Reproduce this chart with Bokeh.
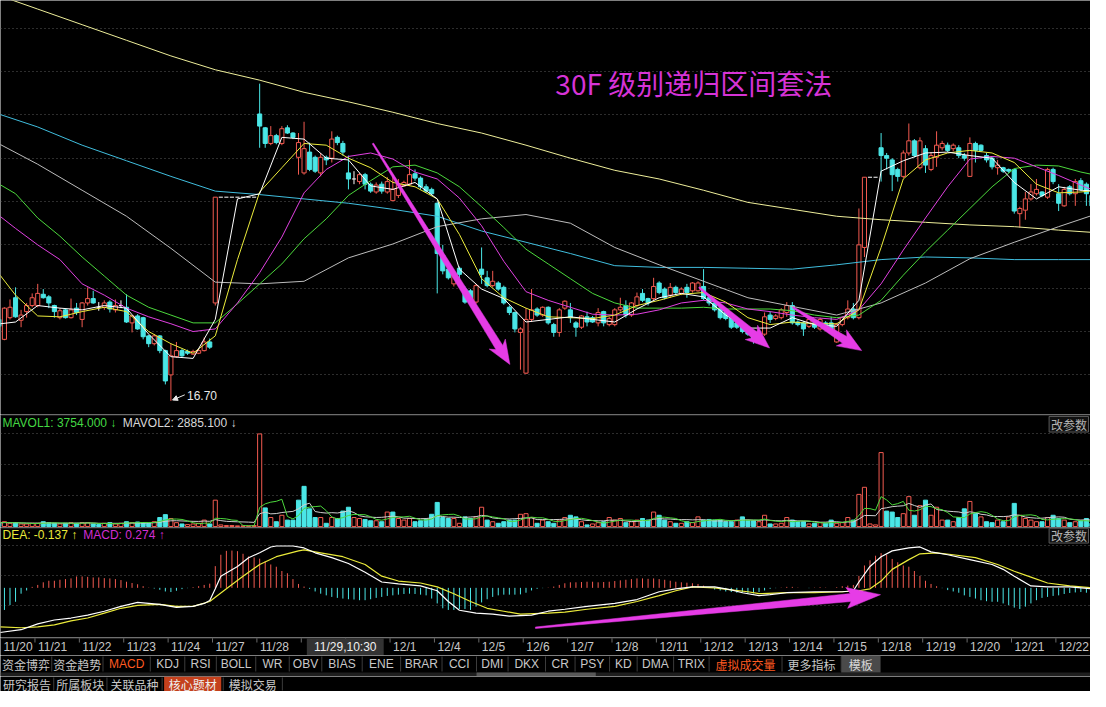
import numpy as np
import pandas as pd
from bokeh.plotting import figure
from bokeh.layouts import column
from bokeh.models import (ColumnDataSource, Range1d, FixedTicker, Grid, Span,
                          Label, LabelSet, Arrow, NormalHead)
from bokeh.core.properties import value
from bokeh.embed import file_html
from bokeh.resources import INLINE

# ---------------- data ----------------
dates = ["11/20", "11/21", "11/22", "11/23", "11/24", "11/27", "11/28", "11/29",
         "11/30", "12/1", "12/4", "12/5", "12/6", "12/7", "12/8", "12/11", "12/12",
         "12/13", "12/14", "12/15", "12/18", "12/19", "12/20", "12/21", "12/22"]
BARS_PER_DAY = 8

opens = [17.58,17.64,17.41,17.66,17.89,17.63,17.73,17.80,17.80,17.93,
         17.90,17.80,17.66,17.75,17.66,17.77,17.64,17.83,17.88,17.78,
         17.78,17.84,17.75,17.80,17.78,17.60,17.68,17.66,17.45,17.36,
         17.45,17.28,17.00,17.21,17.28,17.27,17.24,17.25,17.28,17.38,
         17.83,19.05,19.05,19.05,19.05,19.05,19.05,19.05,20.01,19.85,
         19.67,19.76,19.67,19.85,19.79,19.51,19.33,19.57,19.51,19.33,
         19.51,19.50,19.74,19.67,19.33,19.26,19.23,19.31,19.20,19.11,
         19.20,19.11,19.01,19.07,19.18,19.20,19.32,19.27,19.17,19.14,
         18.98,18.38,18.22,18.05,18.23,17.99,17.97,17.84,18.22,18.12,
         18.03,18.06,18.01,17.78,17.72,17.49,17.02,17.64,17.76,17.69,
         17.78,17.58,17.49,17.77,17.75,17.60,17.55,17.67,17.66,17.60,
         17.73,17.58,17.58,17.75,17.80,17.69,17.80,17.94,17.88,17.88,
         18.06,17.99,17.92,18.01,17.94,18.01,17.97,17.97,18.02,17.89,
         17.83,17.77,17.72,17.66,17.60,17.56,17.55,17.49,17.47,17.47,
         17.69,17.65,17.66,17.72,17.80,17.61,17.60,17.56,17.60,17.53,
         17.60,17.60,17.38,17.58,17.66,17.76,17.66,18.47,19.28,19.28,
         19.62,19.53,19.48,19.37,19.29,19.56,19.70,19.39,19.61,19.37,
         19.51,19.62,19.65,19.61,19.62,19.53,19.29,19.67,19.65,19.53,
         19.50,19.39,19.39,19.37,19.37,18.86,18.90,19.03,19.09,19.11,
         19.05,19.37,19.09,18.95,19.17,19.09,19.24,19.20,19.07]
highs = [17.66,17.66,17.78,17.87,18.01,17.75,17.83,17.94,18.05,17.99,
         17.92,17.81,17.77,17.76,17.88,17.83,17.84,18.01,17.97,17.84,
         17.86,17.86,17.87,17.86,17.93,17.69,17.70,17.67,17.46,17.47,
         17.46,17.29,17.36,17.38,17.30,17.29,17.29,17.30,17.43,17.42,
         19.05,19.05,19.05,19.05,19.05,19.05,19.05,19.05,20.36,19.86,
         19.87,19.78,19.87,19.88,19.80,19.79,19.92,19.68,19.53,19.56,
         19.53,19.81,19.76,19.70,19.53,19.35,19.33,19.33,19.22,19.22,
         19.23,19.28,19.31,19.26,19.24,19.48,19.37,19.29,19.20,19.16,
         18.99,18.50,18.24,18.20,18.25,18.02,17.99,18.05,18.47,18.20,
         18.20,18.08,18.03,17.80,17.73,17.55,17.77,17.99,17.78,17.79,
         17.79,17.60,17.77,17.86,17.83,17.62,17.69,17.73,17.68,17.77,
         17.74,17.67,17.77,17.89,17.86,17.84,17.95,17.99,17.89,18.12,
         18.08,18.01,18.06,18.03,18.01,18.05,18.07,18.08,18.22,17.92,
         17.86,17.79,17.73,17.67,17.62,17.58,17.56,17.50,17.48,17.72,
         17.73,17.70,17.77,17.84,17.84,17.63,17.62,17.66,17.63,17.66,
         17.62,17.67,17.60,17.67,17.86,17.83,18.92,19.28,19.28,19.28,
         19.79,19.56,19.50,19.39,19.59,19.90,19.72,19.74,19.65,19.57,
         19.81,19.70,19.68,19.67,19.65,19.56,19.74,19.69,19.66,19.56,
         19.52,19.48,19.40,19.38,19.38,18.94,19.11,19.20,19.26,19.12,
         19.39,19.39,19.20,19.17,19.19,19.26,19.27,19.22,19.09]
lows = [17.55,17.52,17.40,17.64,17.66,17.55,17.66,17.78,17.78,17.88,
        17.77,17.66,17.64,17.65,17.65,17.69,17.55,17.80,17.82,17.74,
        17.75,17.72,17.72,17.77,17.60,17.49,17.52,17.41,17.32,17.34,
        17.25,16.89,16.70,17.20,17.20,17.23,17.23,17.24,17.27,17.30,
        17.80,19.05,19.05,19.05,19.05,19.05,19.05,19.05,19.62,19.62,
        19.65,19.66,19.65,19.78,19.72,19.31,19.31,19.35,19.33,19.29,
        19.42,19.45,19.65,19.53,19.14,19.20,19.20,19.14,19.10,19.09,
        19.09,19.09,19.01,19.04,19.17,19.18,19.24,19.14,19.10,19.07,
        17.94,18.16,18.10,18.02,18.11,17.82,17.80,17.82,18.05,18.01,
        18.01,17.97,17.81,17.69,17.49,17.06,17.01,17.61,17.67,17.67,
        17.58,17.44,17.44,17.75,17.60,17.44,17.53,17.56,17.60,17.56,
        17.56,17.56,17.56,17.73,17.66,17.67,17.78,17.84,17.80,17.86,
        17.93,17.87,17.89,17.93,17.92,17.89,17.95,17.96,17.86,17.80,
        17.73,17.64,17.63,17.53,17.53,17.48,17.45,17.36,17.38,17.45,
        17.60,17.63,17.64,17.67,17.58,17.56,17.45,17.54,17.53,17.51,
        17.53,17.52,17.37,17.56,17.64,17.64,17.64,18.36,19.28,19.28,
        19.23,19.37,19.12,19.23,19.27,19.53,19.51,19.37,19.33,19.35,
        19.40,19.59,19.57,19.58,19.50,19.47,19.29,19.45,19.57,19.45,
        19.37,19.31,19.33,19.33,18.86,18.70,18.79,19.01,19.07,19.05,
        19.03,19.20,18.89,18.94,19.07,18.95,19.12,18.95,18.92]
closes = [17.62,17.56,17.77,17.78,17.67,17.69,17.80,17.89,17.94,17.89,
          17.83,17.73,17.74,17.66,17.75,17.72,17.83,17.88,17.83,17.78,
          17.83,17.76,17.80,17.80,17.61,17.68,17.53,17.44,17.36,17.45,
          17.28,16.93,17.22,17.28,17.22,17.25,17.27,17.28,17.38,17.32,
          19.05,19.05,19.05,19.05,19.05,19.05,19.05,19.05,19.87,19.67,
          19.76,19.68,19.84,19.79,19.74,19.68,19.61,19.37,19.35,19.51,
          19.48,19.72,19.68,19.57,19.26,19.26,19.31,19.20,19.12,19.19,
          19.12,19.23,19.14,19.20,19.22,19.31,19.27,19.17,19.12,19.09,
          18.40,18.20,18.12,18.16,18.16,17.84,17.83,18.03,18.16,18.03,
          18.08,17.99,17.83,17.72,17.53,17.53,17.64,17.75,17.69,17.78,
          17.60,17.49,17.75,17.85,17.66,17.55,17.68,17.61,17.61,17.72,
          17.60,17.65,17.75,17.78,17.69,17.83,17.90,17.86,17.83,18.02,
          17.95,17.89,18.01,17.95,17.99,17.95,18.06,18.06,17.88,17.83,
          17.75,17.66,17.65,17.55,17.55,17.50,17.47,17.41,17.41,17.67,
          17.64,17.68,17.75,17.80,17.60,17.58,17.53,17.64,17.55,17.64,
          17.55,17.53,17.58,17.66,17.76,17.66,18.50,19.28,19.28,19.28,
          19.53,19.50,19.31,19.29,19.56,19.70,19.53,19.70,19.42,19.53,
          19.65,19.67,19.59,19.65,19.53,19.50,19.67,19.59,19.59,19.48,
          19.40,19.42,19.35,19.35,18.89,18.92,19.03,19.11,19.14,19.07,
          19.37,19.23,18.98,19.14,19.09,19.23,19.14,19.09,18.95]
volume = [2400,2000,3000,2000,2400,1600,1600,2000,2000,3000,
          2400,2000,1600,2000,2400,2000,2400,2400,1600,1200,
          2000,2400,1600,2000,3000,2400,2800,2400,2000,3000,
          5600,7400,5000,2400,1600,1200,1600,2000,4000,1600,
          16400,1000,600,600,400,400,400,600,57600,11600,
          5600,3000,7000,4000,4000,16400,25000,11000,5600,5600,
          2000,5600,5000,9600,12000,5600,5000,4400,3600,3600,
          3000,9000,9000,5000,4000,5000,3000,3600,4400,7600,
          15000,5600,5000,5000,2000,6000,5000,6000,12000,4000,
          3000,2000,3000,4000,4000,7600,8000,5600,2000,4000,
          3000,2000,4000,5600,7000,6000,3000,1000,1600,2400,
          3000,5600,4000,5000,2400,3000,4000,5000,4000,9000,
          7000,4000,3000,2000,2000,3000,2400,6000,4000,4400,
          4000,4000,3000,3000,4000,6000,3600,3600,3000,7000,
          1600,1600,2000,5600,4000,3000,3000,1600,2000,2400,
          2000,4000,2000,2400,5600,4000,20000,24400,1600,1000,
          46000,9600,9000,5600,8000,18600,7000,13000,16400,7000,
          12000,4000,4000,3000,5600,11000,15600,8000,6000,3000,
          2400,4000,3000,6000,14400,7000,5000,4000,3000,3000,
          5600,7000,5000,4000,2400,3000,3600,5000,2000]
macd_hist = [-0.25,-0.243,-0.227,-0.177,-0.143,-0.06,-0.027,0.01,0.03,0.057,
             0.073,0.073,0.083,0.09,0.097,0.117,0.117,0.113,0.107,0.107,
             0.1,0.097,0.09,0.08,0.063,0.05,0.037,0.017,0.003,-0.007,
             -0.02,-0.037,-0.043,-0.03,-0.013,-0.003,0.007,0.017,0.03,0.043,
             0.223,0.34,0.38,0.383,0.377,0.35,0.323,0.313,0.3,0.273,
             0.24,0.217,0.173,0.15,0.09,0.04,0.013,-0.01,-0.037,-0.06,
             -0.077,-0.093,-0.103,-0.11,-0.117,-0.12,-0.127,-0.127,-0.117,-0.103,
             -0.093,-0.083,-0.077,-0.07,-0.063,-0.06,-0.063,-0.07,-0.077,-0.11,
             -0.16,-0.21,-0.227,-0.227,-0.217,-0.217,-0.227,-0.193,-0.15,-0.117,
             -0.093,-0.077,-0.07,-0.07,-0.07,-0.067,-0.05,-0.027,-0.01,-0.003,
             0.003,0.013,0.03,0.047,0.057,0.057,0.06,0.063,0.063,0.057,
             0.06,0.063,0.07,0.077,0.083,0.09,0.097,0.097,0.093,0.097,
             0.09,0.083,0.073,0.063,0.057,0.053,0.047,0.04,0.023,0.003,
             -0.017,-0.027,-0.037,-0.043,-0.05,-0.05,-0.057,-0.057,-0.043,-0.027,
             -0.01,-0.003,0.003,0.01,0.01,0.003,0.0,-0.003,0.003,0.007,
             0.003,0.0,0.007,0.017,0.023,0.03,0.123,0.23,0.283,0.33,
             0.357,0.34,0.297,0.263,0.23,0.217,0.173,0.123,0.073,0.04,
             0.017,-0.003,-0.023,-0.037,-0.05,-0.077,-0.093,-0.11,-0.127,-0.137,
             -0.143,-0.143,-0.16,-0.177,-0.203,-0.217,-0.193,-0.16,-0.127,-0.103,
             -0.093,-0.083,-0.077,-0.063,-0.053,-0.047,-0.043,-0.05,-0.05]
dif_bars = [1,5,8,11,14,17,20,23,26,30,33,36,38,39,40,41,44,46,48,50,
            51,54,56,58,61,64,67,70,73,77,80,82,84,87,90,93,97,100,103,107,
            112,116,120,123,126,130,133,135,138,140,143,148,153,155,156,158,160,162,165,167,
            169,172,176,180,182,184,187,190,194,198]
dif_vals = [-0.46,-0.43,-0.37,-0.33,-0.31,-0.28,-0.24,-0.19,-0.15,-0.17,
            -0.20,-0.19,-0.16,-0.13,-0.01,0.12,0.22,0.31,0.36,0.42,
            0.43,0.43,0.41,0.36,0.31,0.25,0.16,0.06,0.04,0.02,
            -0.03,-0.14,-0.23,-0.26,-0.27,-0.29,-0.28,-0.24,-0.22,-0.19,
            -0.16,-0.12,-0.04,-0.01,0.01,0.01,-0.02,-0.05,-0.08,-0.07,
            -0.05,-0.04,-0.04,-0.03,0.06,0.22,0.32,0.38,0.41,0.42,
            0.37,0.34,0.29,0.24,0.19,0.12,0.02,0.01,0.01,-0.01]
dea_bars = [1,5,8,11,14,17,20,23,26,30,33,36,39,42,45,48,51,55,56,59,
            63,67,70,73,77,80,83,86,89,92,95,100,103,107,112,116,120,123,126,130,
            133,136,138,143,148,153,156,158,160,162,165,167,170,173,177,181,184,187,190,194,198]
dea_vals = [-0.40,-0.41,-0.40,-0.38,-0.34,-0.31,-0.26,-0.21,-0.18,-0.17,
            -0.19,-0.19,-0.14,-0.01,0.12,0.24,0.32,0.38,0.39,0.36,
            0.32,0.24,0.12,0.07,0.05,0.01,-0.06,-0.14,-0.21,-0.24,
            -0.27,-0.26,-0.25,-0.22,-0.19,-0.14,-0.08,-0.03,0.01,0.00,
            -0.02,-0.04,-0.06,-0.05,-0.05,-0.04,-0.03,-0.01,0.07,0.19,
            0.29,0.35,0.36,0.34,0.31,0.24,0.17,0.11,0.05,0.02,0.00]

ma_short_bars = list(range(0, 197, 4)) + [199]
ma5 = [17.58,17.61,17.80,17.77,17.75,17.80,17.77,17.47,17.21,17.19,17.64,19.03,19.09,
       19.74,19.72,19.50,19.48,19.18,19.14,19.22,19.03,18.22,17.99,17.88,17.61,17.64,
       17.67,17.64,17.61,17.76,17.89,17.94,17.90,17.69,17.54,17.54,17.66,17.58,17.56,
       17.86,19.35,19.47,19.56,19.57,19.53,19.50,19.22,19.03,19.17,19.13,19.12]
ma10 = [18.25,17.92,17.68,17.67,17.73,17.78,17.73,17.50,17.36,17.25,17.45,18.33,19.11,
        19.39,19.67,19.65,19.50,19.39,19.22,19.17,19.03,18.62,18.11,17.89,17.77,17.67,
        17.66,17.65,17.69,17.80,17.86,17.93,17.95,17.84,17.66,17.58,17.61,17.59,17.59,
        17.75,18.47,19.26,19.48,19.56,19.59,19.56,19.45,19.20,19.10,19.11,19.13]
ma20 = [18.89,18.69,18.50,18.33,18.05,17.92,17.77,17.67,17.59,17.50,17.53,17.83,18.18,
        18.59,19.10,19.37,19.52,19.56,19.49,19.34,19.26,19.04,18.72,18.31,17.96,17.86,
        17.78,17.70,17.69,17.70,17.75,17.83,17.86,17.83,17.76,17.73,17.69,17.66,17.64,
        17.75,18.05,18.44,18.81,19.17,19.49,19.52,19.50,19.40,19.30,19.19,19.11]
ma30 = [19.24,19.09,18.81,18.60,18.36,18.14,17.92,17.78,17.69,17.60,17.60,17.82,18.05,
        18.28,18.57,18.80,19.07,19.24,19.40,19.42,19.33,19.17,18.94,18.70,18.45,18.28,
        18.11,17.94,17.83,17.77,17.77,17.77,17.78,17.76,17.76,17.76,17.74,17.69,17.66,
        17.69,17.86,18.15,18.42,18.67,18.92,19.17,19.38,19.42,19.41,19.34,19.30]
ma_long_bars = list(range(0, 193, 8)) + [199]
ma60 = [19.70,19.43,19.13,18.83,18.46,18.07,18.05,18.08,18.35,18.51,18.71,18.80,18.85,
        18.75,18.47,18.27,18.08,17.89,17.79,17.69,17.83,18.06,18.34,18.53,18.71,18.86]
ma120 = [20.03,19.86,19.65,19.47,19.29,19.12,19.08,19.03,18.98,18.91,18.83,18.66,18.53,
         18.40,18.26,18.24,18.24,18.23,18.22,18.27,18.33,18.36,18.35,18.33,18.33,18.33]
ma250 = [21.40,21.22,21.04,20.86,20.68,20.52,20.40,20.26,20.15,20.03,19.90,19.79,19.65,
         19.50,19.36,19.26,19.13,18.99,18.91,18.83,18.79,18.76,18.73,18.71,18.67,18.64]

title_text = "30F 级别递归区间套法"
vol_header = ["MAVOL1: 3754.000 \u2193", "MAVOL2: 2885.100 \u2193"]
macd_header = ["DEA: -0.137 \u2191", "MACD: 0.274 \u2191"]
param_text = "改参数"
cursor_bar = 57
cursor_text = "11/29,10:30"
cursor_hidden = ["11/29", "11/30"]
# annotation arrows drawn on the chart: (bar, value) tail -> tip
price_arrows = [((68.4, 19.67), (93.1, 17.12)),
                ((127.2, 18.01), (139.9, 17.31)),
                ((144.1, 17.78), (156.5, 17.28))]
macd_arrow = ((97.7, -0.41), (159.9, -0.07))
tab_names = ["资金博弈", "资金趋势", "MACD", "KDJ", "RSI", "BOLL", "WR", "OBV", "BIAS",
             "ENE", "BRAR", "CCI", "DMI", "DKX", "CR", "PSY", "KD", "DMA", "TRIX",
             "虚拟成交量", "更多指标", "模板"]
bottom_names = ["研究报告", "所属板块", "关联品种", "核心题材", "模拟交易"]

# ---------------- style / layout ----------------
BG = "#000000"
GRID = "#5a5a5a"
RULE = "#3a3a3a"
UP = "#f25a50"
DN = "#4ae6e6"
C5, C10, C20, C30 = "#ffffff", "#ecec3c", "#e040e0", "#4cd83c"
C60, C120, C250 = "#bcbcbc", "#40bede", "#eeee9a"
MAG = "#e63ce6"
TITLE_C = "#d633d6"
AXT = "#c8c8c8"
ACCENT = "#ff5a20"
LAT = "Liberation Sans"
CJK = "Noto Sans CJK SC"
BODY_W = 0.74

W = 1090
REF_W = 1106.0
H_PRICE, H_VOL, H_MACD, H_XLAB, H_TABS, H_BOT = 414, 113, 110, 18, 21, 15
RH_PRICE, RH_VOL, RH_MACD = 428.0, 116.0, 113.0
X0, X1 = 1.29, 197.74
PR = (16.543, 21.319)
VR = (-606.0, 69700.0)
MR = (-0.51, 0.62)

xr = Range1d(X0, X1)


def xref(px):
    return X0 + px * (X1 - X0) / REF_W


def yref(rng, ref_h, px):
    return rng[1] - px * (rng[1] - rng[0]) / ref_h


def panel(h, rng, xrange=None):
    p = figure(width=W, height=h, x_range=xrange if xrange is not None else xr,
               y_range=Range1d(*rng), x_axis_location=None, y_axis_location=None,
               toolbar_location=None, output_backend="svg", min_border=0,
               background_fill_color=BG, border_fill_color=BG, outline_line_color=None)
    p.grid.visible = False
    return p


def hgrid(p, ticks):
    p.add_layout(Grid(dimension=1, ticker=FixedTicker(ticks=ticks),
                      grid_line_color=GRID, grid_line_dash="1 3", grid_line_width=1))


def top_rule(p, rng, ref_h):
    p.add_layout(Span(location=yref(rng, ref_h, 0.5), dimension="width",
                      line_color=RULE, line_width=1))


def arrow_poly(tail, tip, sx, sy, tail_w, shaft_w, head_len, head_w):
    tx, ty = tail[0] * sx, tail[1] * sy
    hx, hy = tip[0] * sx, tip[1] * sy
    dx, dy = hx - tx, hy - ty
    L = (dx * dx + dy * dy) ** 0.5
    ux, uy = dx / L, dy / L
    nx, ny = -uy, ux
    bx, by = hx - ux * head_len, hy - uy * head_len
    pts = [(tx + nx * tail_w / 2, ty + ny * tail_w / 2),
           (bx + nx * shaft_w / 2, by + ny * shaft_w / 2),
           (bx + nx * head_w / 2 - ux * 4, by + ny * head_w / 2 - uy * 4),
           (hx, hy),
           (bx - nx * head_w / 2 - ux * 4, by - ny * head_w / 2 - uy * 4),
           (bx - nx * shaft_w / 2, by - ny * shaft_w / 2),
           (tx - nx * tail_w / 2, ty - ny * tail_w / 2)]
    return [q[0] / sx for q in pts], [q[1] / sy for q in pts]


df = pd.DataFrame(dict(o=opens, h=highs, l=lows, c=closes, v=volume))
df["i"] = np.arange(len(df))
df["top"] = df[["o", "c"]].max(axis=1)
df["bot"] = df[["o", "c"]].min(axis=1)
df["xl"] = df["i"] - BODY_W / 2
df["xr"] = df["i"] + BODY_W / 2
prev_close = df["c"].shift(1).fillna(df["o"])
df["vup"] = df["c"] >= prev_close

up = ColumnDataSource(df[df.c > df.o])
dn = ColumnDataSource(df[df.c < df.o])
fl = ColumnDataSource(df[df.c == df.o])

# ---------------- price panel ----------------
pp = panel(H_PRICE, PR)
hgrid(pp, [17.0 + 0.5 * k for k in range(9)])

pp.segment(x0="i", y0="l", x1="i", y1="h", source=up, line_color=UP, line_width=1)
pp.segment(x0="i", y0="l", x1="i", y1="h", source=dn, line_color=DN, line_width=1)
pp.segment(x0="i", y0="l", x1="i", y1="h", source=fl, line_color="#ffffff", line_width=1)
pp.vbar(x="i", width=BODY_W, top="top", bottom="bot", source=up,
        fill_color=BG, line_color=UP, line_width=1)
pp.vbar(x="i", width=BODY_W, top="top", bottom="bot", source=dn,
        fill_color=DN, line_color=DN, line_width=1)
pp.segment(x0="xl", y0="o", x1="xr", y1="o", source=fl, line_color="#ffffff", line_width=1)

for vals, col in [(ma250, C250), (ma120, C120), (ma60, C60)]:
    pp.line(ma_long_bars, vals, line_color=col, line_width=1)
for vals, col in [(ma30, C30), (ma20, C20), (ma10, C10), (ma5, C5)]:
    pp.line(ma_short_bars, vals, line_color=col, line_width=1)

sxp = W / (X1 - X0)
syp = H_PRICE / (PR[1] - PR[0])
for tail, tip in price_arrows:
    xs, ys = arrow_poly(tail, tip, sxp, syp, 1.5, 8, 20, 19)
    pp.patch(xs, ys, fill_color=MAG, line_color=MAG, line_width=0.5)

pp.text(x=[xref(563)], y=[yref(PR, RH_PRICE, 85)], text=[title_text],
        text_font=value(CJK), text_font_size="28px", text_color=TITLE_C,
        text_baseline="middle", text_align="left")

low_i = int(np.argmin(lows))
low_v = lows[low_i]
pp.add_layout(Arrow(end=NormalHead(size=5, fill_color="#e8e8e8", line_color="#e8e8e8"),
                    x_start=low_i + 2.5, y_start=low_v + 0.07,
                    x_end=low_i + 0.3, y_end=low_v + 0.01,
                    line_color="#e8e8e8", line_width=1))
pp.add_layout(Label(x=low_i + 2.9, y=low_v + 0.065, text="%.2f" % low_v,
                    text_color="#e8e8e8", text_font=LAT, text_font_size="12px",
                    text_baseline="middle", text_align="left"))

# ---------------- volume panel ----------------
pv = panel(H_VOL, VR)
hgrid(pv, [19400, 38600, 57600])
top_rule(pv, VR, RH_VOL)
vu = ColumnDataSource(df[df.vup])
vd = ColumnDataSource(df[~df.vup])
pv.vbar(x="i", width=BODY_W, top="v", bottom=0, source=vu, fill_color=BG, line_color=UP, line_width=1)
pv.vbar(x="i", width=BODY_W, top="v", bottom=0, source=vd, fill_color=DN, line_color=DN, line_width=1)
mavol1 = df["v"].rolling(5, min_periods=1).mean()
mavol2 = df["v"].rolling(10, min_periods=1).mean()
pv.line(df["i"], mavol2, line_color="#d0d0d0", line_width=1)
pv.line(df["i"], mavol1, line_color=C30, line_width=1)
pv.add_layout(Label(x=xref(2), y=yref(VR, RH_VOL, 9), text=vol_header[0], text_color="#44d844",
                    text_font=LAT, text_font_size="12px", text_baseline="middle"))
pv.add_layout(Label(x=xref(124), y=yref(VR, RH_VOL, 9), text=vol_header[1], text_color="#d8d8d8",
                    text_font=LAT, text_font_size="12px", text_baseline="middle"))
pv.quad(left=[xref(1064)], right=[xref(1104)], top=[yref(VR, RH_VOL, 2)], bottom=[yref(VR, RH_VOL, 18)],
        fill_color="#101010", line_color="#5a5a5a")
pv.add_layout(Label(x=xref(1066), y=yref(VR, RH_VOL, 10), text=param_text, text_color="#b4b4b4",
                    text_font=CJK, text_font_size="12px", text_baseline="middle"))

# ---------------- MACD panel ----------------
pm = panel(H_MACD, MR)
hgrid(pm, [0.44, 0.13, -0.18])
top_rule(pm, MR, RH_MACD)
hpos = [k for k, v in enumerate(macd_hist) if v >= 0]
hneg = [k for k, v in enumerate(macd_hist) if v < 0]
pm.segment(x0=hpos, y0=[0] * len(hpos), x1=hpos, y1=[macd_hist[k] for k in hpos],
           line_color=UP, line_width=1)
pm.segment(x0=hneg, y0=[0] * len(hneg), x1=hneg, y1=[macd_hist[k] for k in hneg],
           line_color=DN, line_width=1)
pm.line(dea_bars, dea_vals, line_color="#eaea3a", line_width=1.2)
pm.line(dif_bars, dif_vals, line_color="#ffffff", line_width=1.2)
sym = H_MACD / (MR[1] - MR[0])
xs, ys = arrow_poly(macd_arrow[0], macd_arrow[1], sxp, sym, 1.5, 8, 30, 21)
pm.patch(xs, ys, fill_color=MAG, line_color=MAG, line_width=0.5)
pm.add_layout(Label(x=xref(2), y=yref(MR, RH_MACD, 8), text=macd_header[0], text_color="#eaea3a",
                    text_font=LAT, text_font_size="12px", text_baseline="middle"))
pm.add_layout(Label(x=xref(84), y=yref(MR, RH_MACD, 8), text=macd_header[1], text_color="#d22ed2",
                    text_font=LAT, text_font_size="12px", text_baseline="middle"))
pm.quad(left=[xref(1064)], right=[xref(1104)], top=[yref(MR, RH_MACD, 1)], bottom=[yref(MR, RH_MACD, 16)],
        fill_color="#101010", line_color="#5a5a5a")
pm.add_layout(Label(x=xref(1066), y=yref(MR, RH_MACD, 8.5), text=param_text, text_color="#b4b4b4",
                    text_font=CJK, text_font_size="12px", text_baseline="middle"))

# ---------------- date axis row ----------------
pxl = panel(H_XLAB, (0, 18))
pxl.add_layout(Span(location=17.5, dimension="width", line_color="#444444", line_width=1))
bounds = [BARS_PER_DAY * k - 0.5 for k in range(len(dates))]
pxl.segment(x0=bounds, y0=[18] * len(bounds), x1=bounds, y1=[13] * len(bounds),
            line_color="#6a6a6a", line_width=1)
shown = [(max(b, X0), d) for b, d in zip(bounds, dates) if d not in cursor_hidden]
lab_src = ColumnDataSource(dict(x=[s[0] for s in shown], y=[8.5] * len(shown),
                                text=[s[1] for s in shown]))
pxl.add_layout(LabelSet(x="x", y="y", text="text", source=lab_src, x_offset=3,
                        text_baseline="middle", text_align="left", text_color=AXT,
                        text_font_size="12px", text_font=value(LAT)))
cw = 78 * (X1 - X0) / REF_W
cl = cursor_bar - 0.5
pxl.quad(left=[cl], right=[cl + cw], top=[17], bottom=[0], fill_color="#333333", line_color=None)
pxl.add_layout(Label(x=cl + cw / 2, y=8.5, text=cursor_text, text_color="#f0f0f0", text_font=LAT,
                     text_font_size="12px", text_baseline="middle", text_align="center"))

# ---------------- indicator tabs row ----------------
tab_edges = [0, 52, 104, 152, 187, 219, 259, 293, 326, 367, 406, 448, 483, 515,
             553, 583, 618, 646, 683, 719, 793, 853, 893]
pt = panel(H_TABS, (0, 21), xrange=Range1d(0, REF_W))
pt.quad(left=[0], right=[REF_W], top=[4], bottom=[0.5], fill_color="#1e1e1e", line_color=None)
pt.quad(left=[483], right=[604], top=[4], bottom=[0.5], fill_color="#585858", line_color=None)
pt.quad(left=[tab_edges[-2]], right=[tab_edges[-1]], top=[21], bottom=[4], fill_color="#4a4a4a", line_color=None)
pt.segment(x0=tab_edges[1:-1], y0=[5] * (len(tab_edges) - 2), x1=tab_edges[1:-1],
           y1=[20] * (len(tab_edges) - 2), line_color="#3c3c3c", line_width=1)
centers = [(a + b) / 2 for a, b in zip(tab_edges[:-1], tab_edges[1:])]
tcol = [ACCENT if n in ("MACD", "虚拟成交量") else ("#d8d8d8" if n == "模板" else AXT) for n in tab_names]
is_cjk = [any(ord(ch) > 0x2E80 for ch in n) for n in tab_names]
for flag, font, size in [(True, CJK, "12px"), (False, LAT, "12px")]:
    sel = [k for k in range(len(tab_names)) if is_cjk[k] == flag]
    pt.text(x=[centers[k] for k in sel], y=[12.5] * len(sel), text=[tab_names[k] for k in sel],
            text_color=[tcol[k] for k in sel], text_font=value(font), text_font_size=size,
            text_align="center", text_baseline="middle")

# ---------------- bottom row ----------------
bottom_edges = [0, 54, 108, 164, 226, 286]
pb = panel(H_BOT, (0, 15), xrange=Range1d(0, REF_W))
pb.quad(left=[bottom_edges[3] + 2], right=[bottom_edges[4] - 2], top=[15], bottom=[0],
        fill_color="#c4401c", line_color=None)
pb.segment(x0=bottom_edges[1:], y0=[1] * (len(bottom_edges) - 1), x1=bottom_edges[1:],
           y1=[14] * (len(bottom_edges) - 1), line_color="#3c3c3c", line_width=1)
bcent = [(a + b) / 2 for a, b in zip(bottom_edges[:-1], bottom_edges[1:])]
pb.text(x=bcent, y=[7.5] * len(bcent), text=bottom_names,
        text_color=["#f0f0f0" if n == "核心题材" else AXT for n in bottom_names],
        text_font=value(CJK), text_font_size="12px", text_align="center", text_baseline="middle")

p = column(pp, pv, pm, pxl, pt, pb, spacing=0)
open("out.html", "w").write(file_html(p, INLINE))
